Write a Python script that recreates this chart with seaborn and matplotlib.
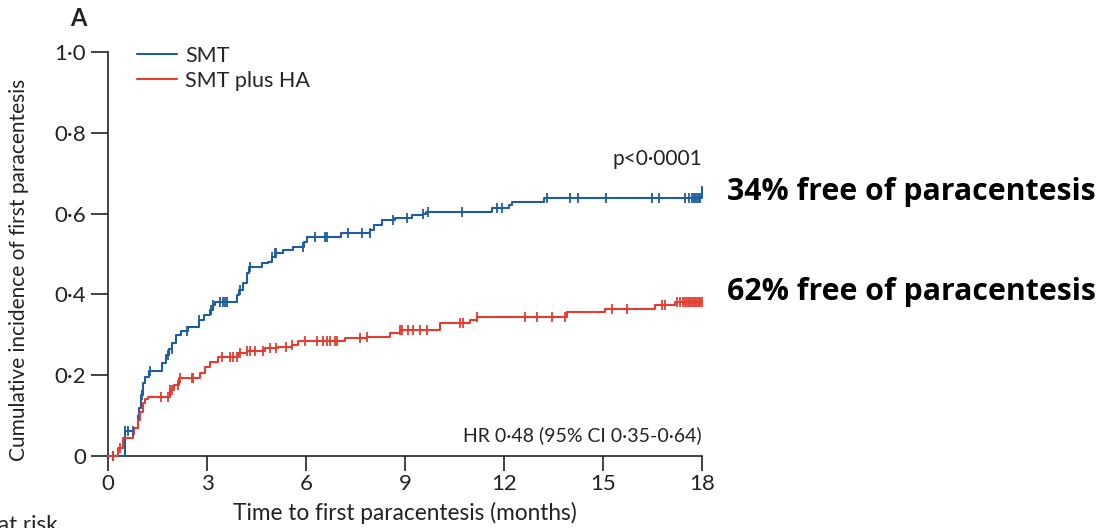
import numpy as np
import pandas as pd
import matplotlib
matplotlib.use("Agg")
import matplotlib.pyplot as plt
import seaborn as sns

# Cumulative incidence of first paracentesis (step curves), months
smt_times = [0, 0.50, 0.80, 0.90, 0.95, 1.00, 1.05, 1.12, 1.25, 1.65, 1.75, 1.85, 1.95,
             2.05, 2.20, 2.42, 2.76, 2.90, 3.09, 3.18, 3.24, 3.90, 3.97, 4.10, 4.20, 4.27,
             4.67, 4.85, 4.97, 5.05, 5.30, 5.60, 5.95, 6.03, 7.05, 7.95, 8.05, 8.30, 8.70,
             9.20, 9.55, 9.65, 11.65, 12.15, 12.25, 13.20, 18.0]
smt_values = [0, 0.062, 0.07, 0.10, 0.12, 0.15, 0.18, 0.195, 0.21, 0.23, 0.25, 0.265, 0.28,
              0.30, 0.31, 0.32, 0.337, 0.35, 0.361, 0.374, 0.382, 0.398, 0.41, 0.428, 0.452,
              0.469, 0.477, 0.48, 0.493, 0.502, 0.51, 0.518, 0.53, 0.543, 0.552, 0.56, 0.572,
              0.584, 0.59, 0.597, 0.60, 0.605, 0.613, 0.622, 0.63, 0.638, 0.665]
smt_censored = [0.15, 0.52, 0.62, 0.76, 1.03, 1.27, 1.82, 1.94, 2.4, 2.76, 3.12, 3.18, 3.40,
                3.47, 3.55, 3.62, 4.0, 4.3, 4.97, 5.05, 5.1, 5.9, 6.27, 6.58, 6.63, 7.27, 7.7,
                7.94, 8.64, 9.05, 9.55, 9.7, 10.73, 11.8, 11.95, 13.3, 14.0, 14.24, 15.1,
                16.5, 16.7, 17.5, 17.6, 17.7, 17.75, 17.8, 17.85, 17.9, 17.95]

ha_times = [0, 0.30, 0.45, 0.75, 0.80, 0.90, 0.97, 1.05, 1.12, 1.21, 1.88, 2.00, 2.15,
            2.79, 2.94, 3.09, 3.33, 3.94, 4.20, 4.76, 5.15, 5.58, 5.76, 7.18, 7.85, 8.55,
            8.85, 10.05, 10.97, 11.18, 13.90, 15.06, 16.58, 17.18]
ha_values = [0, 0.02, 0.045, 0.055, 0.07, 0.09, 0.11, 0.13, 0.14, 0.147, 0.163, 0.176,
             0.193, 0.205, 0.221, 0.233, 0.244, 0.254, 0.26, 0.267, 0.270, 0.275, 0.285,
             0.291, 0.295, 0.304, 0.312, 0.328, 0.337, 0.343, 0.357, 0.365, 0.374, 0.382]
ha_censored = [0.15, 0.35, 1.6, 1.82, 1.88, 1.94, 2.12, 2.18, 2.55, 2.58, 3.45, 3.7, 3.8,
               3.9, 4.0, 4.2, 4.3, 4.45, 4.7, 4.9, 5.1, 5.4, 5.58, 5.97, 6.33, 6.5, 6.63,
               6.73, 6.88, 6.94, 7.64, 7.85, 8.85, 8.9, 9.1, 9.25, 9.45, 9.67, 10.67, 10.76,
               11.18, 12.64, 13.0, 13.45, 13.85, 15.27, 15.73, 16.8, 16.88, 17.24, 17.33,
               17.42, 17.5, 17.55, 17.6, 17.65, 17.7, 17.75, 17.8, 17.85, 17.9, 17.95, 18.0]

follow_up_end = 18.0
group_labels = ["SMT", "SMT plus HA"]
x_ticks = [0, 3, 6, 9, 12, 15, 18]
y_ticks = [0, 0.2, 0.4, 0.6, 0.8, 1.0]
y_tick_labels = ["0", "0·2", "0·4", "0·6", "0·8", "1·0"]

BLUE = "#1e5d9e"
RED = "#e63b30"
INK = "#222222"

sns.set_style("ticks")
plt.rcParams["font.family"] = ["Lato", "DejaVu Sans"]

fig = plt.figure(figsize=(11.09, 5.28), dpi=100)
ax = fig.add_axes([0.0974, 0.1364, 0.5356, 0.765])


def step_frame(times, values, end):
    t = list(times)
    v = list(values)
    if t[-1] < end:
        t.append(end)
        v.append(v[-1])
    return pd.DataFrame({"time": t, "incidence": v})


def value_at(times, values, c):
    idx = np.searchsorted(np.asarray(times), c, side="right") - 1
    return np.asarray(values)[idx]


series = [
    (smt_times, smt_values, smt_censored, BLUE, group_labels[0]),
    (ha_times, ha_values, ha_censored, RED, group_labels[1]),
]

for times, values, cens, color, label in series:
    df = step_frame(times, values, follow_up_end)
    sns.lineplot(data=df, x="time", y="incidence", ax=ax, color=color, linewidth=1.5,
                 drawstyle="steps-post", estimator=None, sort=False, label=label,
                 clip_on=False, zorder=3)
    cy = value_at(times, values, np.asarray(cens))
    ax.plot(cens, cy, linestyle="none", marker="|", markersize=6.5,
            markeredgewidth=1.3, color=color, clip_on=False, zorder=4)

ax.set_xlim(0, 18)
ax.set_ylim(0, 1.0)
ax.set_xticks(x_ticks)
ax.set_xticklabels([str(t) for t in x_ticks])
ax.set_yticks(y_ticks)
ax.set_yticklabels(y_tick_labels)
ax.tick_params(axis="both", direction="out", width=1.2, colors=INK, labelsize=16)
ax.tick_params(axis="x", length=11, pad=2)
ax.tick_params(axis="y", length=12, pad=4)
for side in ["top", "right"]:
    ax.spines[side].set_visible(False)
for side in ["left", "bottom"]:
    ax.spines[side].set_linewidth(1.2)
    ax.spines[side].set_color(INK)

ax.set_xlabel("Time to first paracentesis (months)", fontsize=16.3, color=INK)
ax.xaxis.set_label_coords(0.5, -0.114)
ax.set_ylabel("Cumulative incidence of first paracentesis", fontsize=15, color=INK)
ax.yaxis.set_label_coords(-0.133, 0.46)

leg = ax.legend(loc="upper left", bbox_to_anchor=(0.049, 1.015), frameon=False,
                fontsize=15.5, handlelength=1.85, handletextpad=0.38, labelspacing=0.22,
                borderpad=0, borderaxespad=0)
for line in leg.get_lines():
    line.set_linewidth(1.5)

ax.text(18, 0.735, "p<0·0001", ha="right", va="center", fontsize=15, color=INK)
ax.text(18, 0.052, "HR 0·48 (95% CI 0·35-0·64)", ha="right", va="center", fontsize=14,
        color=INK)

fig.text(70 / 1109, 1 - 26 / 528, "A", fontsize=17, fontweight="bold", ha="left",
         va="baseline", color=INK)

for label_text, base_px in [("34% free of paracentesis", 200),
                            ("62% free of paracentesis", 300)]:
    fig.text(727 / 1109, 1 - base_px / 528, label_text, fontsize=21.8,
             fontweight="bold", family=["Open Sans", "DejaVu Sans"], ha="left",
             va="baseline", color="black")

fig.text(-0.002, -0.006, "at risk", fontsize=16, ha="left", va="baseline", color=INK)

fig.savefig("out.png", dpi=100)
